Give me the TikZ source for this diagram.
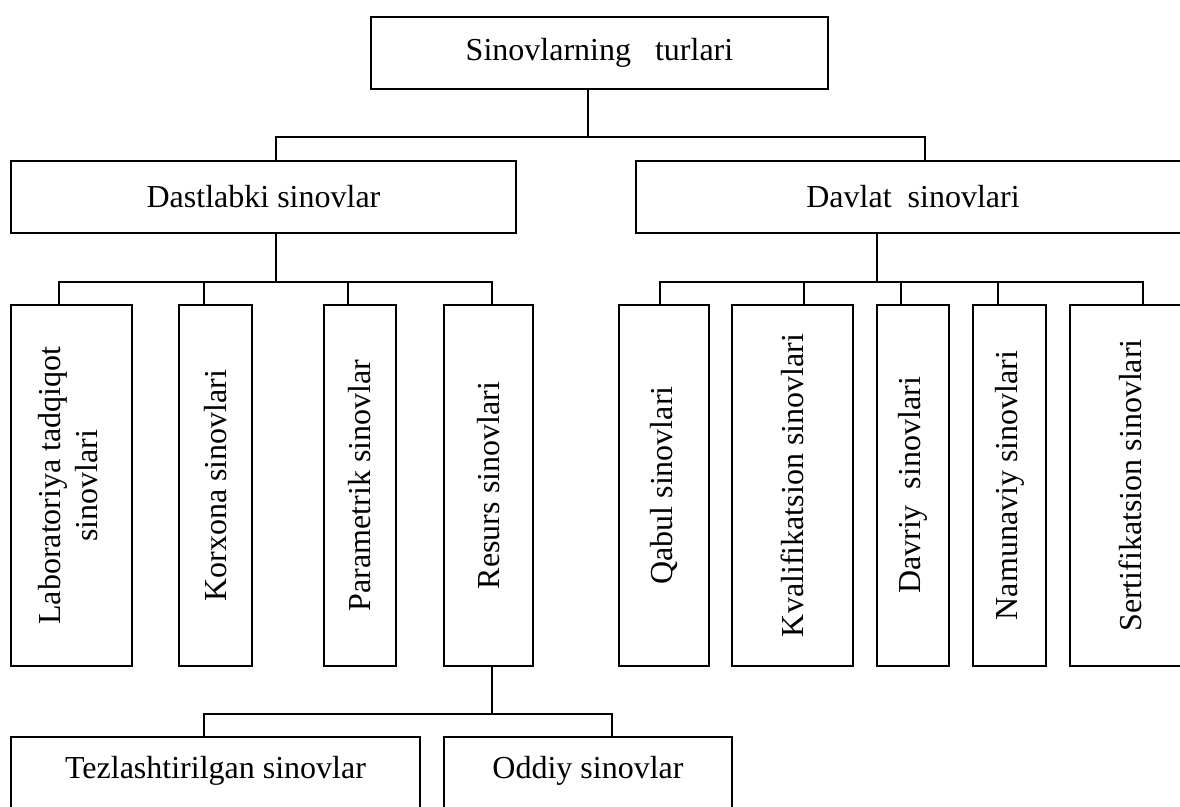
\documentclass[tikz,border=0pt]{standalone}
\usepackage{fontspec}
\setmainfont{Liberation Serif}
\usepackage{graphicx}
\usetikzlibrary{positioning}

\begin{document}
\begin{tikzpicture}[x=1pt,y=-1pt,line width=1.6pt,
    every node/.style={font=\fontsize{32}{37}\selectfont},
    main box/.style={draw,outer sep=0pt,inner sep=0pt,minimum height=72pt},
    tall box/.style={draw,outer sep=0pt,inner sep=0pt,minimum height=361pt},
    low box/.style={draw,outer sep=0pt,inner sep=0pt,text height=41pt,text depth=70pt}]

  \useasboundingbox (0,0) rectangle (1180,806);
  \clip (0,0) rectangle (1180,806);

  \node[main box,minimum width=457pt] (root) at (599.5,53) {Sinovlarning\ \ \ turlari};
  \node[main box,minimum width=505pt] (dast) at (263.5,197) {Dastlabki sinovlar};
  \node[main box,minimum width=554pt,right=120pt of dast] (davl) {Davlat\ \ sinovlari};

  % dastlabki sinovlar
  \node[tall box,minimum width=121pt] (lab) at (71.5,485.5)
    {\rotatebox{90}{\begin{tabular}{@{}c@{}}Laboratoriya tadqiqot\\sinovlari\end{tabular}}};
  \node[tall box,minimum width=73pt,right=47pt of lab] (korx) {\rotatebox{90}{Korxona sinovlari}};
  \node[tall box,minimum width=72pt,right=72pt of korx] (param) {\rotatebox{90}{Parametrik sinovlar}};
  \node[tall box,minimum width=89pt,right=48pt of param] (res) {\rotatebox{90}{Resurs sinovlari}};

  % davlat sinovlari
  \node[tall box,minimum width=90pt] (qab) at (664,485.5) {\rotatebox{90}{Qabul sinovlari}};
  \node[tall box,minimum width=121pt,right=23pt of qab] (kval) {\rotatebox{90}{Kvalifikatsion sinovlari}\hspace{39pt}};
  \node[tall box,minimum width=72pt,right=24pt of kval] (davr) {\rotatebox{90}{Davriy\ \ sinovlari}};
  \node[tall box,minimum width=73pt,right=24pt of davr] (namun) {\rotatebox{90}{Namunaviy sinovlari}};
  \node[tall box,minimum width=120pt,right=24pt of namun] (sert) {\rotatebox{90}{Sertifikatsion sinovlari}\hspace{40pt}};

  % resurs sinovlari
  \node[low box,minimum width=409pt,anchor=north west] (tez) at (11,737) {Tezlashtirilgan sinovlar};
  \node[low box,minimum width=288pt,right=24pt of tez] (odd) {Oddiy sinovlar};

  \draw ([xshift=-11.5pt]root.south) -- ++(0,48) coordinate (bus1);
  \draw ([xshift=12.5pt]dast.north) |- (bus1) -| ([xshift=12pt]davl.north);

  \draw ([xshift=12.5pt]dast.south) -- ++(0,49) coordinate (bus2);
  \draw ([xshift=-12.5pt]lab.north) |- (bus2) -| ([xshift=3.5pt]res.north);
  \draw ([xshift=-11.5pt]korx.north) -- ++(0,-23);
  \draw ([xshift=-12pt]param.north) -- ++(0,-23);

  \draw ([xshift=-36pt]davl.south) -- ++(0,49) coordinate (bus3);
  \draw ([xshift=-4pt]qab.north) |- (bus3) -| ([xshift=13pt]sert.north);
  \draw ([xshift=11.5pt]kval.north) -- ++(0,-23);
  \draw ([xshift=-12pt]davr.north) -- ++(0,-23);
  \draw ([xshift=-11.5pt]namun.north) -- ++(0,-23);

  \draw ([xshift=3.5pt]res.south) -- ++(0,48) coordinate (bus4);
  \draw ([xshift=-11.5pt]tez.north) |- (bus4) -| ([xshift=24pt]odd.north);
\end{tikzpicture}
\end{document}
